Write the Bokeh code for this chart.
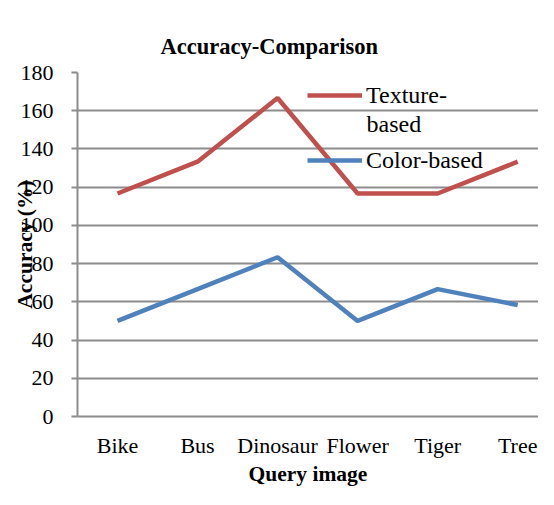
from bokeh.plotting import figure
from bokeh.models import (Legend, LegendItem, Label, FixedTicker,
                          Range1d, ColumnDataSource)
from bokeh.embed import file_html
from bokeh.resources import INLINE

categories = ["Bike", "Bus", "Dinosaur", "Flower", "Tiger", "Tree"]
texture_based = [116.67, 133.33, 166.67, 116.67, 116.67, 133.33]
color_based = [50.0, 66.67, 83.33, 50.0, 66.67, 58.33]
y_ticks = [0, 20, 40, 60, 80, 100, 120, 140, 160, 180]

FONT = "Liberation Serif"
GRAY = "#8c8c8c"

x_pos = list(range(len(categories)))
src = ColumnDataSource(data=dict(x=x_pos, tex=texture_based, col=color_based))

p = figure(width=538, height=489,
           x_range=Range1d(-0.5, 5.26), y_range=Range1d(0, 180),
           output_backend="svg", toolbar_location=None,
           min_border_left=77, min_border_right=0,
           min_border_top=72, min_border_bottom=73,
           title="Accuracy-Comparison")
p.outline_line_color = None
p.background_fill_color = "white"
p.border_fill_color = "white"

p.title.text_font = FONT
p.title.text_font_size = "22.5px"
p.title.text_font_style = "bold"
p.title.align = "left"
p.title.offset = 83
p.title.standoff = 28
p.title.text_color = "black"

r1 = p.line("x", "tex", source=src, line_color="#C0504D", line_width=4.5)
r2 = p.line("x", "col", source=src, line_color="#4F81BD", line_width=4.5)

# y axis
ya = p.yaxis[0]
ya.ticker = FixedTicker(ticks=y_ticks)
ya.axis_line_color = GRAY
ya.axis_line_width = 2
ya.major_tick_line_color = GRAY
ya.major_tick_line_width = 2
ya.major_tick_out = 6
ya.major_tick_in = 0
ya.minor_tick_line_color = None
ya.major_label_standoff = 18
ya.major_label_text_font = FONT
ya.major_label_text_font_size = "22px"
ya.major_label_text_color = "black"
ya.axis_label = "Accuracy (%)"
ya.axis_label_text_font = FONT
ya.axis_label_text_font_size = "21.5px"
ya.axis_label_text_font_style = "bold"
ya.axis_label_text_color = "black"
ya.axis_label_standoff = -19

# x axis
xa = p.xaxis[0]
xa.ticker = FixedTicker(ticks=x_pos)
xa.major_label_overrides = {i: c for i, c in zip(x_pos, categories)}
xa.axis_line_color = GRAY
xa.axis_line_width = 2
xa.major_tick_line_color = None
xa.major_tick_out = 0
xa.major_tick_in = 0
xa.minor_tick_line_color = None
xa.major_label_standoff = 16
xa.major_label_text_font = FONT
xa.major_label_text_font_size = "22px"
xa.major_label_text_color = "black"
xa.axis_label = "Query image"
xa.axis_label_text_font = FONT
xa.axis_label_text_font_size = "21.5px"
xa.axis_label_text_font_style = "bold"
xa.axis_label_text_color = "black"
xa.axis_label_standoff = 1

p.xgrid.grid_line_color = None
p.ygrid.grid_line_color = GRAY
p.ygrid.grid_line_width = 2

legend = Legend(items=[LegendItem(label="Texture-", renderers=[r1]),
                       LegendItem(label="Color-based", renderers=[r2])],
                location=(230, 241), orientation="vertical",
                glyph_width=55, glyph_height=30, label_height=30,
                label_standoff=4, spacing=35, padding=0, margin=0,
                background_fill_alpha=0, border_line_color=None,
                label_text_font=FONT, label_text_font_size="24px",
                label_text_color="black")
p.add_layout(legend)

p.add_layout(Label(x=289, y=293, x_units="screen", y_units="screen",
                   text="based", text_font=FONT, text_font_size="24px",
                   text_baseline="middle", text_color="black"))

open("out.html", "w").write(file_html(p, INLINE))
